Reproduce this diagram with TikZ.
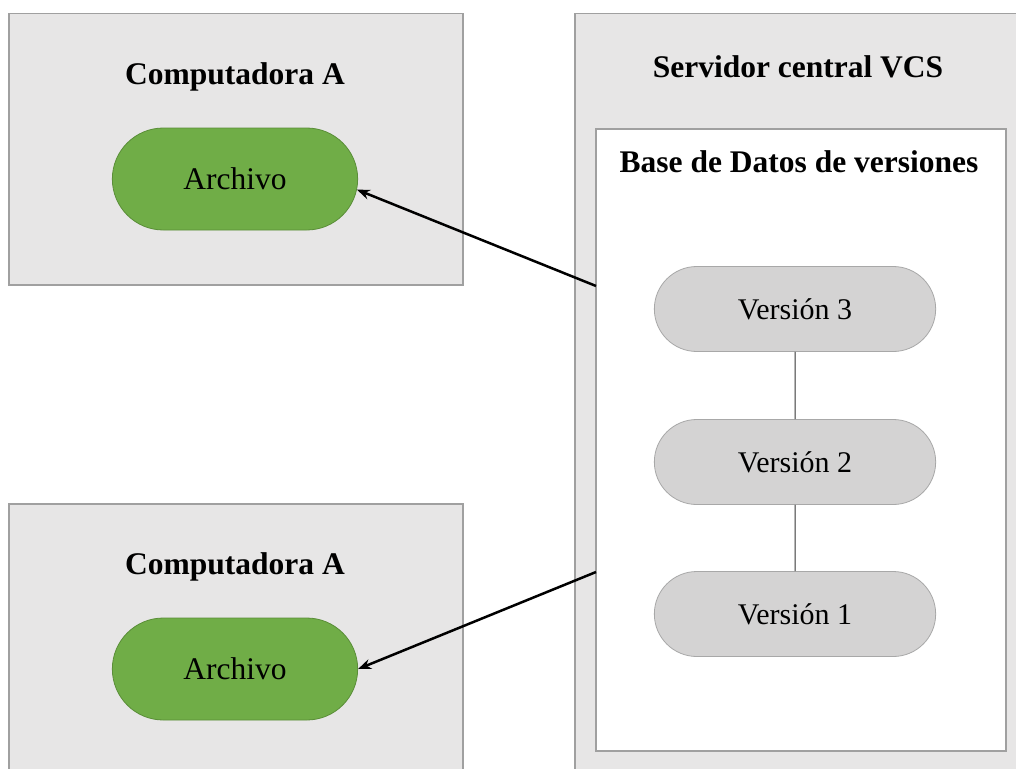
\documentclass[tikz,border=0pt]{standalone}
\usepackage{fontspec}
\setmainfont{Liberation Serif}
\usetikzlibrary{shapes.misc,arrows.meta}
\definecolor{boxfill}{HTML}{E7E6E6}
\definecolor{boxline}{HTML}{A0A0A0}
\definecolor{filegreen}{HTML}{70AD47}
\definecolor{fileline}{HTML}{5A8E38}
\definecolor{verfill}{HTML}{D4D3D3}
\definecolor{verline}{HTML}{A8A8A8}
\begin{document}
\begin{tikzpicture}[x=1pt, y=-1pt,
    box/.style={draw=boxline, fill=boxfill, line width=1.5pt, anchor=north west, inner sep=0pt},
    dbbox/.style={draw=boxline, fill=white, line width=1.5pt, anchor=north west, inner sep=0pt},
    title/.style={font=\fontsize{31.5}{38}\bfseries\selectfont},
    filenode/.style={rounded rectangle, draw=fileline, fill=filegreen, line width=0.8pt,
        minimum width=252pt, minimum height=102pt, font=\fontsize{31.5}{38}\selectfont},
    vernode/.style={rounded rectangle, draw=verline, fill=verfill, line width=0.8pt,
        minimum width=288pt, minimum height=85pt, font=\fontsize{30}{36}\selectfont},
    link/.style={draw=black!80, line width=1pt},
    flow/.style={-{Stealth[length=13pt, width=10pt]}, line width=2.5pt}]
    \useasboundingbox (0,0) rectangle (1016,768);
    \clip (0,0) rectangle (1016,768);
    \fill[white] (0,0) rectangle (1016,768);

    \node[box, minimum width=454pt, minimum height=271pt] (pcA) at (8,13) {};
    \node[title] (pcAtitle) at (235,77) {Computadora A};
    \node[filenode] (fileA) at (235,179) {Archivo};

    \node[box, minimum width=454pt, minimum height=300pt] (pcB) at (8,503) {};
    \node[title] (pcBtitle) at (235,567) {Computadora A};
    \node[filenode] (fileB) at (235,669) {Archivo};

    \node[box, minimum width=460pt, minimum height=790pt] (server) at (574,13) {};
    \node[title] (servertitle) at (798,67) {Servidor central VCS};
    \node[dbbox, minimum width=410pt, minimum height=622pt] (db) at (595,128) {};
    \node[title] (dbtitle) at (799,162) {Base de Datos de versiones};

    \node[vernode] (v3) at (795,309) {Versión 3};
    \node[vernode] (v2) at (795,462) {Versión 2};
    \node[vernode] (v1) at (795,614) {Versión 1};
    \draw[link] (v3) -- (v2);
    \draw[link] (v2) -- (v1);

    \coordinate (outA) at (596,286);
    \coordinate (outB) at (596,572);
    \draw[flow] (outA) -- (fileA.-5);
    \draw[flow] (outB) -- (fileB.east);
\end{tikzpicture}
\end{document}
